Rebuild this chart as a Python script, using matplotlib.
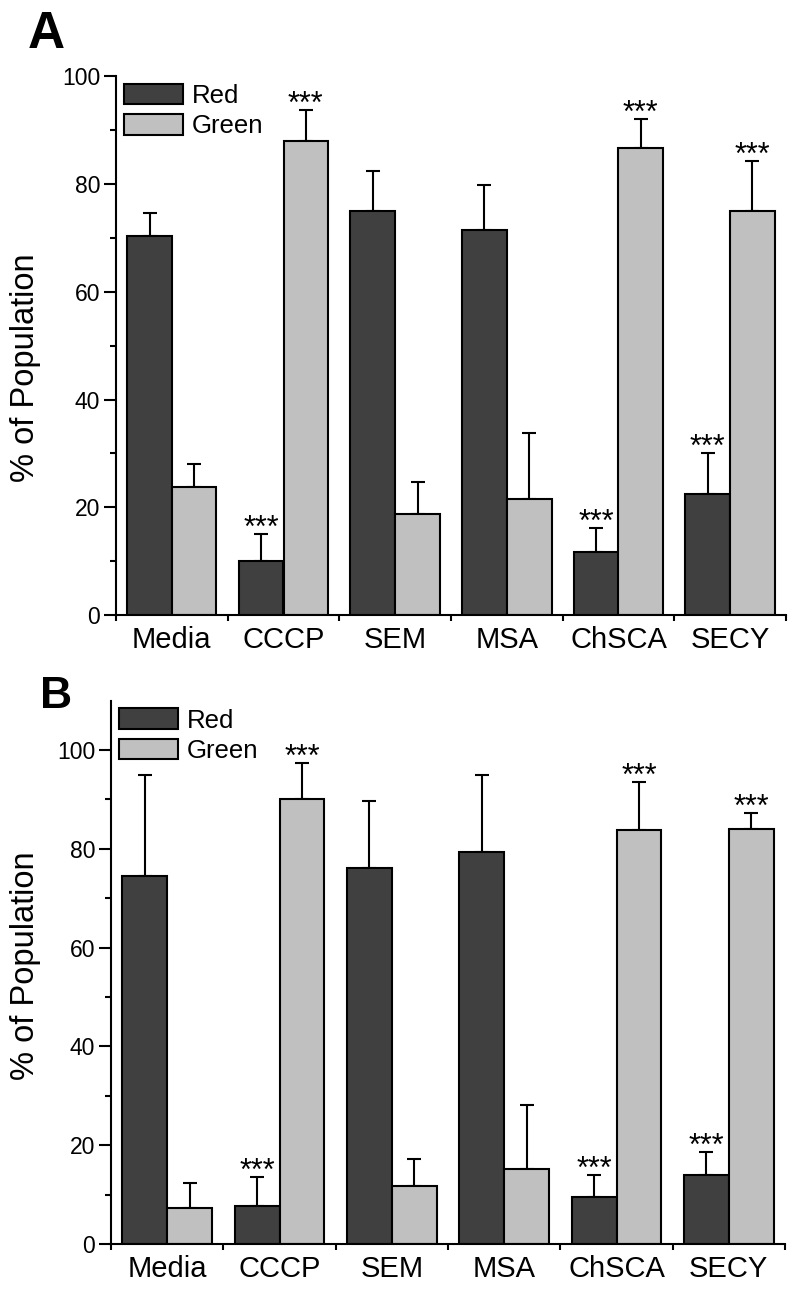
import numpy as np
import matplotlib
matplotlib.use('Agg')
import matplotlib.pyplot as plt
from matplotlib.patches import Patch

plt.rcParams['font.family'] = ['Liberation Sans', 'DejaVu Sans']

# data
treatments = ['Media', 'CCCP', 'SEM', 'MSA', 'ChSCA', 'SECY']

redA = [70.4, 10.0, 75.0, 71.5, 11.7, 22.5]
redA_err = [4.2, 5.0, 7.3, 8.3, 4.4, 7.6]
greenA = [23.8, 87.9, 18.8, 21.5, 86.7, 75.0]
greenA_err = [4.3, 5.8, 6.0, 12.3, 5.3, 9.3]

redB = [74.6, 7.8, 76.1, 79.4, 9.6, 14.0]
redB_err = [20.4, 5.8, 13.6, 15.6, 4.4, 4.6]
greenB = [7.2, 90.0, 11.8, 15.2, 83.9, 84.0]
greenB_err = [5.2, 7.4, 5.4, 13.0, 9.7, 3.2]

# which bars carry ***
sig_red = [False, True, False, False, True, True]
sig_green = [False, True, False, False, True, True]

dark = '#404040'
light = '#c0c0c0'


def panel(ax, red, red_err, green, green_err, ymax):
    x = np.arange(1, len(treatments) + 1)
    w = 0.4
    for vals, errs, col, off, sig in [(red, red_err, dark, -w / 2, sig_red),
                                       (green, green_err, light, w / 2, sig_green)]:
        ax.bar(x + off, vals, width=w, color=col, edgecolor='black', linewidth=1.5, zorder=2)
        ax.errorbar(x + off, vals, yerr=[np.zeros(len(vals)), errs], fmt='none',
                    ecolor='black', elinewidth=1.5, capsize=5, capthick=1.5, zorder=1)
        for xi, v, e, s in zip(x + off, vals, errs, sig):
            if s:
                ax.annotate('***', xy=(xi, v + e), xytext=(0, -2), textcoords='offset points',
                            ha='center', va='baseline', fontsize=22)

    ax.set_xlim(0.5, len(treatments) + 0.5)
    ax.set_ylim(0, ymax)
    ax.spines['top'].set_visible(False)
    ax.spines['right'].set_visible(False)
    ax.spines['left'].set_linewidth(1.5)
    ax.spines['bottom'].set_linewidth(1.5)

    ax.set_yticks(np.arange(0, 101, 20))
    ax.set_yticks(np.arange(10, 100, 20), minor=True)
    ax.tick_params(axis='y', which='major', length=8.5, width=1.5, labelsize=16.5, pad=3)
    ax.tick_params(axis='y', which='minor', length=4.5, width=1.5)

    ax.set_xticks(np.arange(0.5, len(treatments) + 1, 1))
    ax.set_xticklabels([])
    ax.set_xticks(x, minor=True)
    ax.set_xticklabels(treatments, minor=True)
    ax.tick_params(axis='x', which='major', length=4.5, width=1.5)
    ax.tick_params(axis='x', which='minor', length=0, labelsize=21, pad=8)

    handles = [Patch(facecolor=dark, edgecolor='black', linewidth=1.5, label='Red'),
               Patch(facecolor=light, edgecolor='black', linewidth=1.5, label='Green')]
    ax.legend(handles=handles, loc='upper left', bbox_to_anchor=(0.0, 1.0), frameon=False,
              fontsize=18.5, handlelength=2.3, handleheight=0.85, labelspacing=0.25,
              handletextpad=0.35, borderaxespad=0.1, borderpad=0.2)


fig = plt.figure(figsize=(8, 12.94), dpi=100)
axA = fig.add_axes([0.145, 0.5245, 0.8375, 0.4168])
axB = fig.add_axes([0.13875, 0.0386, 0.8425, 0.4199])

panel(axA, redA, redA_err, greenA, greenA_err, 100)
panel(axB, redB, redB_err, greenB, greenB_err, 110)

fig.text(26 / 800, 1 - 368 / 1294, '% of Population', rotation=90, ha='center', va='center', fontsize=23.5)
fig.text(26 / 800, 1 - 966 / 1294, '% of Population', rotation=90, ha='center', va='center', fontsize=23.5)

fig.text(28 / 800, 1 - 48 / 1294, 'A', fontsize=37, fontweight='bold', ha='left', va='baseline')
fig.text(40 / 800, 1 - 708 / 1294, 'B', fontsize=32, fontweight='bold', ha='left', va='baseline')

fig.savefig('out.png', dpi=100)
